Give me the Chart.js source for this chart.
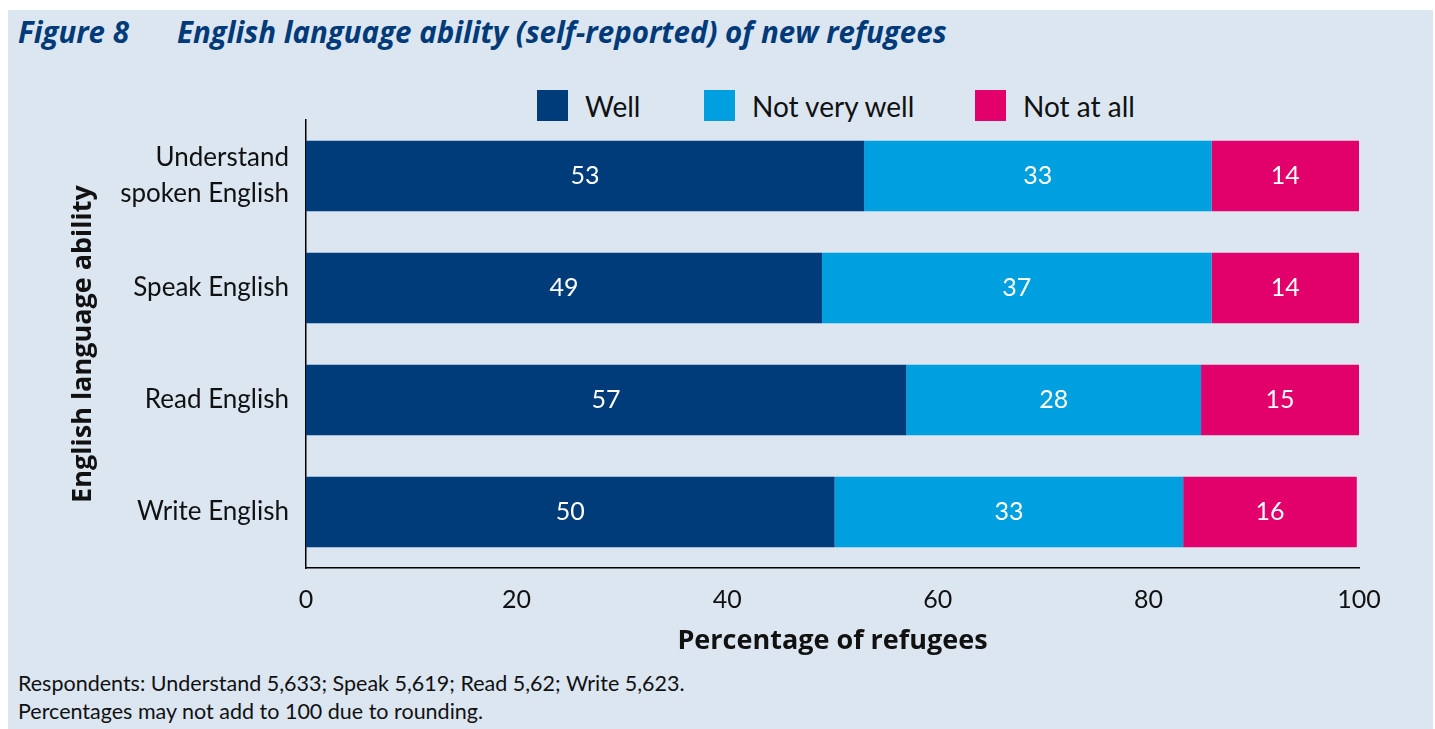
<!DOCTYPE html>
<html>
<head>
<meta charset="utf-8">
<script src="https://cdn.jsdelivr.net/npm/chart.js@4/dist/chart.umd.min.js"></script>
<style>
  html, body { margin: 0; padding: 0; background: #ffffff; }
  body { width: 1435px; height: 729px; position: relative; overflow: hidden; font-family: "Lato", "Open Sans", sans-serif; }
  #panel { position: absolute; left: 8px; top: 10px; width: 1425px; height: 719px; background: #dbe6f1; }
  #title { position: absolute; left: 18px; top: 11px; color: #003a78; font-family: "Open Sans", sans-serif; font-weight: bold; font-style: italic; font-size: 29.5px; white-space: nowrap; }
  #title .num { display: inline-block; width: 159px; }
  .item { position: absolute; top: 90px; height: 31px; display: flex; align-items: center; font-size: 28px; color: #111; }
  .box { width: 31px; height: 31px; margin-right: 17px; }
  #wrap { position: absolute; left: 0; top: 100px; width: 1435px; height: 560px; }
  #notes { position: absolute; left: 18px; top: 669px; font-size: 21.5px; line-height: 28px; color: #111; white-space: nowrap; }
</style>
</head>
<body>
<div id="panel"></div>
<div id="title"><span class="num">Figure 8</span>English language ability (self-reported) of new refugees</div>
<div id="legend"></div>
<div id="wrap"><canvas id="chart"></canvas></div>
<div id="notes">Respondents: Understand 5,633; Speak 5,619; Read 5,62; Write 5,623.<br>Percentages may not add to 100 due to rounding.</div>
<script>
// Categories (top to bottom)
const categories = [['Understand', 'spoken English'], 'Speak English', 'Read English', 'Write English'];

// Series values, percentage of refugees
const seriesNames = ['Well', 'Not very well', 'Not at all'];
const well = [53, 49, 57, 50.2];
const notVeryWell = [33, 37, 28, 33.1];
const notAtAll = [14, 14, 15, 16.49];

const xTicks = [0, 20, 40, 60, 80, 100];

const colors = ['#003b7a', '#009fdf', '#e2006b'];
const seriesValues = [well, notVeryWell, notAtAll];

// HTML legend built from the series
const legend = document.getElementById('legend');
const legendX = [537, 704, 975];
seriesNames.forEach((name, i) => {
    const item = document.createElement('div');
    item.className = 'item';
    item.style.left = legendX[i] + 'px';
    item.innerHTML = '<div class="box" style="background:' + colors[i] + '"></div><span>' + name + '</span>';
    legend.appendChild(item);
});

// Draw the value in the middle of each bar segment
const valueLabels = {
    id: 'valueLabels',
    afterDatasetsDraw(chart) {
        const ctx = chart.ctx;
        ctx.save();
        ctx.fillStyle = '#ffffff';
        ctx.font = '25px Lato, "Open Sans", sans-serif';
        ctx.textAlign = 'center';
        ctx.textBaseline = 'middle';
        chart.data.datasets.forEach((ds, di) => {
            chart.getDatasetMeta(di).data.forEach((bar, i) => {
                const cx = (bar.x + bar.base) / 2;
                ctx.fillText(Math.round(ds.data[i]), cx, bar.y);
            });
        });
        ctx.restore();
    }
};

const ctx = document.getElementById('chart').getContext('2d');
new Chart(ctx, {
    type: 'bar',
    data: {
        labels: categories,
        datasets: seriesNames.map((name, i) => ({
            label: name,
            data: seriesValues[i],
            backgroundColor: colors[i],
            borderWidth: 0,
            barPercentage: 0.63,
            categoryPercentage: 1
        }))
    },
    options: {
        indexAxis: 'y',
        responsive: true,
        maintainAspectRatio: false,
        animation: false,
        layout: { padding: { top: 20, right: 76, left: 0, bottom: 0 } },
        plugins: {
            legend: { display: false },
            tooltip: { enabled: false }
        },
        scales: {
            x: {
                stacked: true,
                min: 0,
                max: 100,
                afterBuildTicks: (s) => { s.ticks = xTicks.map(v => ({ value: v })); },
                grid: { display: false, drawTicks: false },
                border: { display: true, color: '#000000', width: 1.5 },
                ticks: { color: '#111', font: { size: 25, family: 'Lato' }, padding: 17, maxRotation: 0 },
                title: {
                    display: true,
                    text: 'Percentage of refugees',
                    color: '#111',
                    font: { size: 27, weight: 'bold', family: 'Open Sans' },
                    padding: { top: 0, bottom: 2 }
                },
                afterFit: (s) => { s.height = 92; s.paddingLeft = 0; s.paddingRight = 0; }
            },
            y: {
                stacked: true,
                grid: { display: false, drawTicks: false },
                border: { display: true, color: '#000000', width: 1.5 },
                ticks: { color: '#111', font: { size: 26, family: 'Lato', lineHeight: 1.385 }, padding: 17 },
                title: {
                    display: true,
                    text: 'English language ability',
                    color: '#111',
                    font: { size: 27, weight: 'bold', family: 'Open Sans' },
                    padding: { top: 67, bottom: 0 }
                },
                afterFit: (s) => { s.width = 306; s.paddingTop = 0; s.paddingBottom = 0; }
            }
        }
    },
    plugins: [valueLabels]
});
</script>
</body>
</html>
